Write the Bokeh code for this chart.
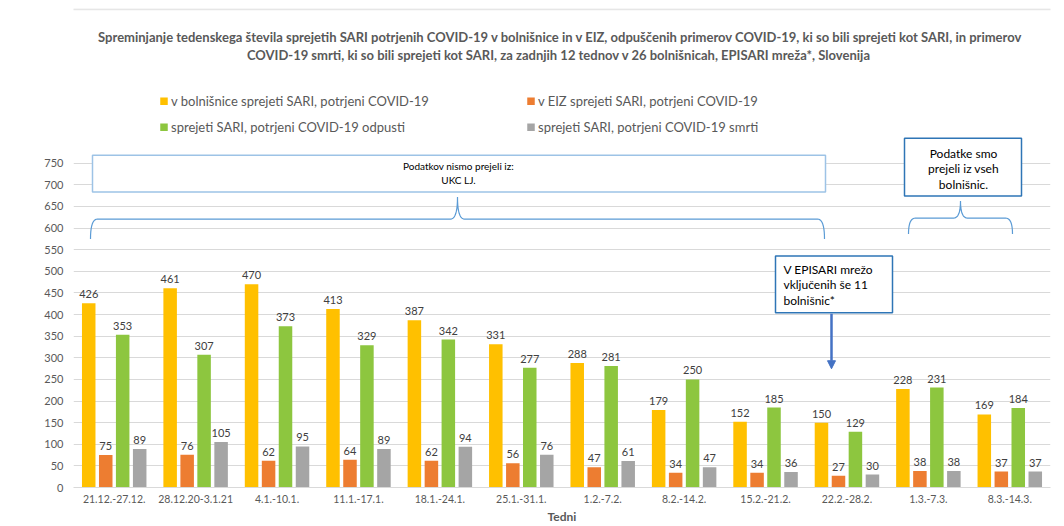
import math
from bokeh.plotting import figure
from bokeh.models import FactorRange, Range1d, FixedTicker, Label, Arrow, NormalHead, ColumnDataSource
from bokeh.transform import dodge
from bokeh.core.properties import value
from bokeh.embed import file_html
from bokeh.resources import INLINE

# ---------------- data ----------------
weeks = ["21.12.-27.12.", "28.12.20-3.1.21", "4.1.-10.1.", "11.1.-17.1.", "18.1.-24.1.",
         "25.1.-31.1.", "1.2.-7.2.", "8.2.-14.2.", "15.2.-21.2.", "22.2.-28.2.",
         "1.3.-7.3.", "8.3.-14.3."]
hosp = [426, 461, 470, 413, 387, 331, 288, 179, 152, 150, 228, 169]
eiz = [75, 76, 62, 64, 62, 56, 47, 34, 34, 27, 38, 37]
disch = [353, 307, 373, 329, 342, 277, 281, 250, 185, 129, 231, 184]
deaths = [89, 105, 95, 89, 94, 76, 61, 47, 36, 30, 38, 37]
series_names = ["v bolnišnice sprejeti SARI, potrjeni COVID-19",
                "v EIZ sprejeti SARI, potrjeni COVID-19",
                "sprejeti SARI, potrjeni COVID-19 odpusti",
                "sprejeti SARI, potrjeni COVID-19 smrti"]
y_ticks = list(range(0, 751, 50))

title_lines = ["Spreminjanje tedenskega števila sprejetih SARI potrjenih COVID-19 v bolnišnice in v EIZ, odpuščenih primerov COVID-19, ki so bili sprejeti kot SARI, in primerov",
               "COVID-19 smrti, ki so bili sprejeti kot SARI, za zadnjih 12 tednov  v 26 bolnišnicah, EPISARI mreža*, Slovenija"]

colors = ["#FFC000", "#ED7D31", "#8DC63F", "#A5A5A5"]
FONT = "Lato"
TXT = "#595959"

# page-pixel -> data helpers (for annotations only)
FRAME_L, CAT_W = 73.0, 977.0 / 12
Y0_PX, PX_PER = 488.0, 325.0 / 750


def xd(px):
    return (px - FRAME_L) / CAT_W


def yd(py):
    return (Y0_PX - py) / PX_PER


p = figure(width=1052, height=526, x_range=FactorRange(*weeks, range_padding=0),
           y_range=Range1d(0, 480 / PX_PER), output_backend="svg", toolbar_location=None,
           title=None, min_border_left=73, min_border_right=2, min_border_top=8,
           min_border_bottom=38)
p.outline_line_color = None
p.background_fill_color = "white"
p.border_fill_color = "white"
p.xgrid.grid_line_color = None
p.ygrid.grid_line_color = "#D9D9D9"
p.ygrid.ticker = FixedTicker(ticks=y_ticks)

p.yaxis.ticker = FixedTicker(ticks=y_ticks)
p.yaxis.axis_line_color = None
p.yaxis.major_tick_line_color = None
p.yaxis.minor_tick_line_color = None
p.yaxis.major_tick_out = 0
p.yaxis.major_label_text_font = FONT
p.yaxis.major_label_text_font_size = "11px"
p.yaxis.major_label_text_color = TXT
p.yaxis.major_label_standoff = 10

p.xaxis.axis_line_color = "#D9D9D9"
p.xaxis.major_tick_line_color = None
p.xaxis.minor_tick_line_color = None
p.xaxis.major_tick_out = 0
p.xaxis.major_label_text_font = FONT
p.xaxis.major_label_text_font_size = "10.5px"
p.xaxis.major_label_text_color = TXT
p.xaxis.major_label_standoff = 7
p.xaxis.axis_label = "Tedni"
p.xaxis.axis_label_text_font = FONT
p.xaxis.axis_label_text_font_size = "12px"
p.xaxis.axis_label_text_font_style = "bold"
p.xaxis.axis_label_text_color = TXT
p.xaxis.axis_label_standoff = 3

keys = ["hosp", "eiz", "disch", "deaths"]
data = dict(week=weeks, hosp=hosp, eiz=eiz, disch=disch, deaths=deaths)
for k in keys:
    data[k + "_t"] = [str(v) for v in data[k]]
src = ColumnDataSource(data)

offsets = [-0.313, -0.104, 0.104, 0.313]
for k, off, col in zip(keys, offsets, colors):
    xx = dodge("week", off, range=p.x_range)
    p.vbar(x=xx, top=k, width=0.166, source=src, fill_color=col, line_color=None)
    p.text(x=xx, y=k, text=k + "_t", source=src, text_align="center", text_baseline="bottom",
           y_offset=-5, text_font=value(FONT), text_font_size="11px", text_color="#404040")

# title
for line, py in zip(title_lines, [37, 55]):
    p.text(x=[xd(560)], y=[yd(py)], text=[line], text_align="center", text_baseline="middle",
           text_font=value(FONT), text_font_size="13px", text_font_style="bold", text_color=TXT)

# legend
leg_pos = [(163.5, 101), (530.5, 101), (163.5, 127), (530.5, 127)]
for (lx, ly), name, col in zip(leg_pos, series_names, colors):
    p.scatter(x=[xd(lx)], y=[yd(ly)], marker="square", size=7.5, fill_color=col, line_color=None)
    p.text(x=[xd(lx + 7)], y=[yd(ly)], text=[name], text_align="left", text_baseline="middle",
           text_font=value(FONT), text_font_size="13px", text_color=TXT)


# braces
def quad(p0, c, p1, n=10):
    pts = []
    for i in range(n + 1):
        t = i / n
        x = (1 - t) ** 2 * p0[0] + 2 * (1 - t) * t * c[0] + t * t * p1[0]
        y = (1 - t) ** 2 * p0[1] + 2 * (1 - t) * t * c[1] + t * t * p1[1]
        pts.append((x, y))
    return pts


def brace(x0, x1, xm, yend, ybar, ytip, r=7):
    pts = []
    pts += quad((x0, yend), (x0, ybar), (x0 + r, ybar))
    pts += quad((xm - r, ybar), (xm, ybar), (xm, ytip))
    pts += quad((xm, ytip), (xm, ybar), (xm + r, ybar))
    pts += quad((x1 - r, ybar), (x1, ybar), (x1, yend))
    return [xd(a) for a, b in pts], [yd(b) for a, b in pts]


bx, by = brace(90, 824, 457, 239, 219, 197)
p.line(bx, by, line_color="#5B9BD5", line_width=1.2)
bx, by = brace(908, 1012, 960, 234, 218, 201)
p.line(bx, by, line_color="#5B9BD5", line_width=1.2)

# boxes
p.quad(left=[xd(92)], right=[xd(825)], top=[yd(155)], bottom=[yd(192)], fill_color="white",
       line_color="#9DC3E6", line_width=1.5)
for t, py in zip(["Podatkov nismo prejeli iz:", "UKC LJ."], [166, 180]):
    p.text(x=[xd(458)], y=[yd(py)], text=[t], text_align="center", text_baseline="middle",
           text_font=value(FONT), text_font_size="10px", text_color="black")

p.quad(left=[xd(904)], right=[xd(1021)], top=[yd(138)], bottom=[yd(196)], fill_color="white",
       line_color="#2E75B6", line_width=1.5)
for t, py in zip(["Podatke smo", "prejeli iz vseh", "bolnišnic."], [153, 168.5, 184]):
    p.text(x=[xd(963)], y=[yd(py)], text=[t], text_align="center", text_baseline="middle",
           text_font=value(FONT), text_font_size="12px", text_color="black")

p.quad(left=[xd(775)], right=[xd(892)], top=[yd(256)], bottom=[yd(313)], fill_color="white",
       line_color="#2E75B6", line_width=1.5)
for t, py in zip(["V EPISARI mrežo", "vključenih še 11", "bolnišnic*"], [269.5, 285, 300.5]):
    p.text(x=[xd(783)], y=[yd(py)], text=[t], text_align="left", text_baseline="middle",
           text_font=value(FONT), text_font_size="12px", text_color="black")

p.add_layout(Arrow(end=NormalHead(size=8, fill_color="#4472C4", line_color="#4472C4"),
                   x_start=xd(831), y_start=yd(314), x_end=xd(831), y_end=yd(369),
                   line_color="#4472C4", line_width=2.5))

# thin grey strip at the top of the page
p.line([xd(0), xd(1064)], [yd(8.8), yd(8.8)], line_color="#E6E6E6", line_width=2)

# y axis title
p.add_layout(Label(x=xd(33), y=yd(328), text="Število", angle=math.pi / 2, text_align="center",
                   text_baseline="middle", text_font=FONT, text_font_size="12px",
                   text_font_style="bold", text_color=TXT))

open("out.html", "w").write(file_html(p, INLINE))
